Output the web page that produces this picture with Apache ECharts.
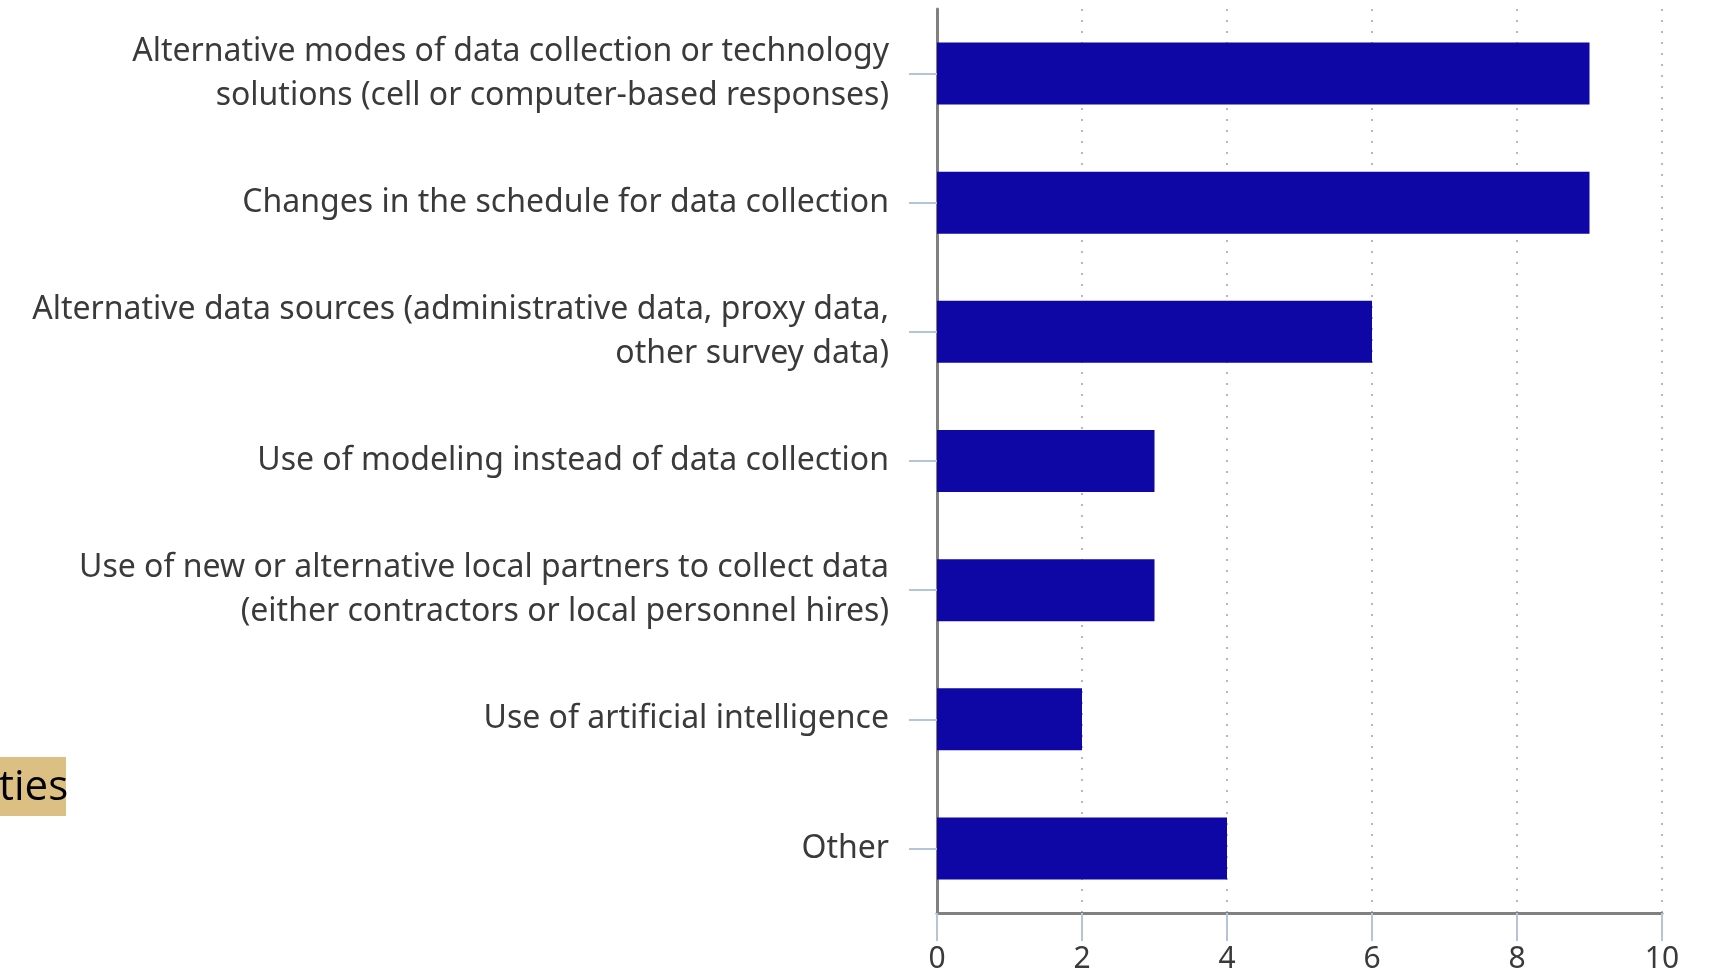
<!DOCTYPE html>
<html><head><meta charset="utf-8">
<script src="https://cdn.jsdelivr.net/npm/echarts@6/dist/echarts.min.js"></script>
<style>html,body{margin:0;padding:0;background:#fff}#c{width:1709px;height:976px}</style>
</head><body><div id="c"></div>
<script>
const categories = [
  "Alternative modes of data collection or technology\nsolutions (cell or computer-based responses)",
  "Changes in the schedule for data collection",
  "Alternative data sources (administrative data, proxy data,\nother survey data)",
  "Use of modeling instead of data collection",
  "Use of new or alternative local partners to collect data\n(either contractors or local personnel hires)",
  "Use of artificial intelligence",
  "Other"
];
const values = [9, 9, 6, 3, 3, 2, 4];
const xTicks = [0, 2, 4, 6, 8, 10];

const chart = echarts.init(document.getElementById('c'), null, {renderer: 'canvas'});
chart.setOption({
  animation: false,
  grid: {left: 937, right: 47, top: 9, bottom: 63, containLabel: false},
  xAxis: {
    type: 'value', min: xTicks[0], max: xTicks[xTicks.length - 1], interval: 2,
    axisLine: {show: true, lineStyle: {color: '#808080', width: 3}},
    axisTick: {show: true, length: 28, lineStyle: {color: '#b4c5da', width: 2}},
    axisLabel: {color: '#3a3a3a', fontSize: 30, fontFamily: 'Noto Sans', margin: 31},
    splitLine: {show: true, lineStyle: {color: '#b8b8b8', width: 2, type: [2, 9]}}
  },
  yAxis: {
    type: 'category', data: categories, inverse: true,
    axisLine: {show: true, lineStyle: {color: '#808080', width: 3}},
    axisTick: {show: true, alignWithLabel: true, length: 28, lineStyle: {color: '#b4c5da', width: 2}},
    axisLabel: {color: '#3a3a3a', fontSize: 32, fontFamily: 'Noto Sans', lineHeight: 44, margin: 48, align: 'right'},
    splitLine: {show: false}
  },
  series: [{
    type: 'bar', data: values, barCategoryGap: '52%',
    itemStyle: {color: '#0f07a5'}
  }],
  graphic: [
    {type: 'rect', left: 0, top: 757, shape: {width: 66, height: 59}, style: {fill: '#dcc083'}},
    {type: 'text', left: -1, top: 767, style: {text: 'ties', fill: '#000', font: '42px "Open Sans"'}}
  ]
});
</script></body></html>
